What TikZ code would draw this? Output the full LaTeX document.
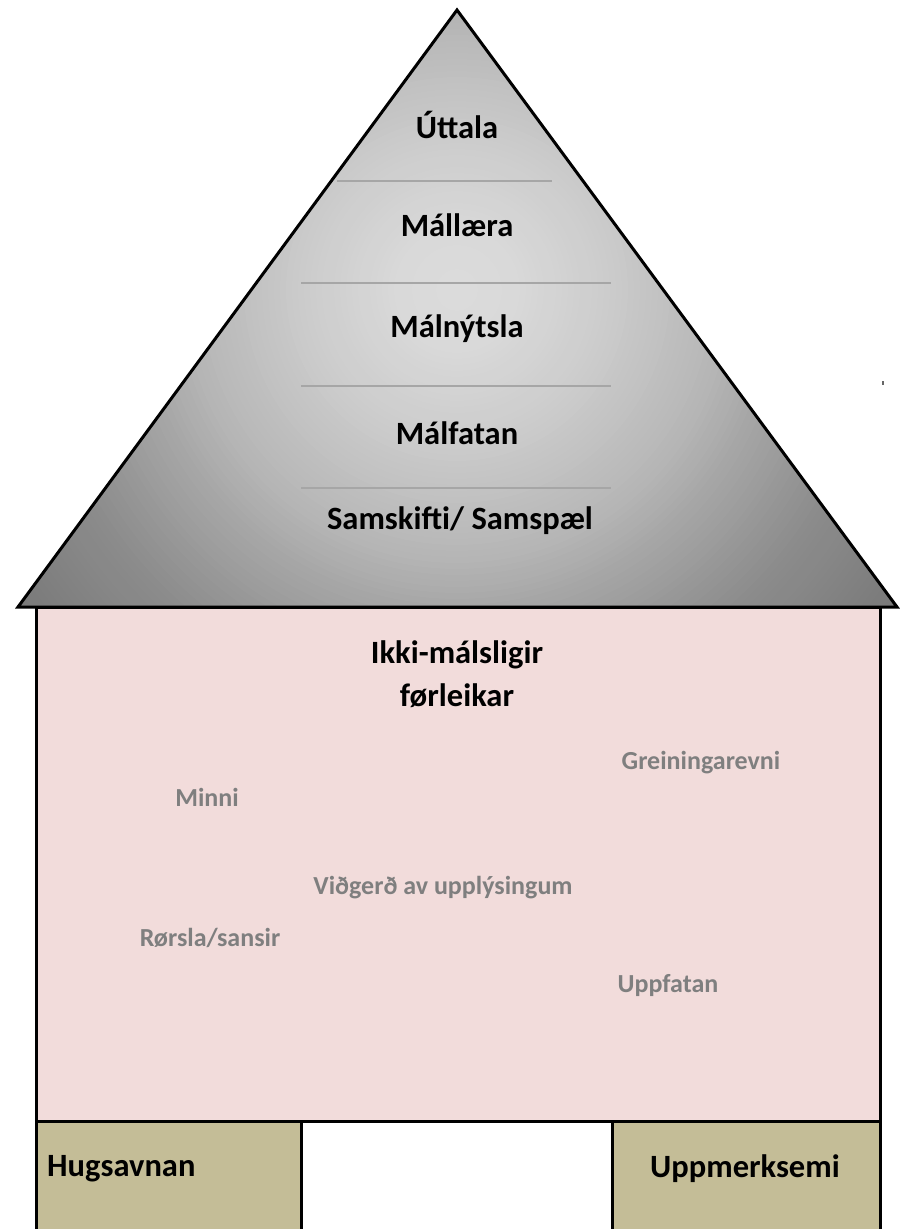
\documentclass[tikz,border=0pt]{standalone}
\usepackage{fontspec}
\setmainfont{Carlito}
\definecolor{wallpink}{HTML}{F2DCDB}
\definecolor{foottan}{HTML}{C4BD97}
\definecolor{softgrey}{HTML}{7F7F7F}
\definecolor{sepgrey}{HTML}{A6A6A6}
\tikzset{
  outline/.style={draw=black, line width=3pt, line join=miter},
  roofsep/.style={draw=sepgrey, line width=1.2pt},
  rooflabel/.style={font=\bfseries\fontsize{32.5}{39}\selectfont, text=black, inner sep=0pt},
  softlabel/.style={font=\bfseries\fontsize{26}{31}\selectfont, text=softgrey, inner sep=0pt},
  footlabel/.style={font=\bfseries\fontsize{32.5}{39}\selectfont, text=black, inner sep=0pt}
}
\begin{document}
\begin{tikzpicture}[x=1pt,y=-1pt]
\useasboundingbox (0,0) rectangle (913,1229);
\begin{scope}
\clip (0,0) rectangle (913,1229);
% roof: radial gradient built from concentric discs
\begin{scope}
\clip (457,10) -- (897,607) -- (18,607) -- cycle;
\foreach \r in {552,546,...,0} {
  \pgfmathsetmacro\p{\r<60 ? 14+\r/60 : (\r<150 ? 15+5*(\r-60)/90 : (\r<270 ? 20+9*(\r-150)/120 : (\r<320 ? 29+6*(\r-270)/50 : (\r<420 ? 35+10*(\r-320)/100 : 45+8*(\r-420)/132))))}
  \fill[black!\p] (457,290) circle[radius=\r+3];
}
\end{scope}
\draw[roofsep] (337,181) -- (552,181);
\draw[roofsep] (301,283) -- (611,283);
\draw[roofsep] (301,386) -- (611,386);
\draw[roofsep] (301,488) -- (611,488);
\draw[outline] (457,10) -- (897,607) -- (18,607) -- cycle;
% wall
\draw[outline, fill=wallpink] (36,607) rectangle (880,1121);
% feet
\draw[outline, fill=foottan] (36,1121) rectangle (301,1240);
\draw[outline, fill=foottan] (612,1121) rectangle (880,1240);
\end{scope}
% roof labels
\node[rooflabel] (uttala) at (457,125) {Úttala};
\node[rooflabel] (mallaera) at (457,225) {Mállæra};
\node[rooflabel] (malnytsla) at (457,329) {Málnýtsla};
\node[rooflabel] (malfatan) at (457,433) {Málfatan};
\node[rooflabel] (samskifti) at (460,521) {Samskifti/ Samspæl};
% wall labels
\node[rooflabel, align=center, font=\bfseries\fontsize{32.5}{43}\selectfont] (ikki) at (457,674) {Ikki-málsligir\\førleikar};
\node[softlabel] (grein) at (701,763) {Greiningarevni};
\node[softlabel] (minni) at (207,797) {Minni};
\node[softlabel] (vidgerd) at (443,888) {Viðgerð av upplýsingum};
\node[softlabel] (rorsla) at (210,938) {Rørsla/sansir};
\node[softlabel] (uppfatan) at (668,985) {Uppfatan};
% foot labels
\node[footlabel, anchor=west] (hugs) at (47,1169) {Hugsavnan};
\node[footlabel] (uppm) at (745,1169) {Uppmerksemi};
% stray dot
\fill[black!60] (882,381) rectangle (884,385);
\end{tikzpicture}
\end{document}
